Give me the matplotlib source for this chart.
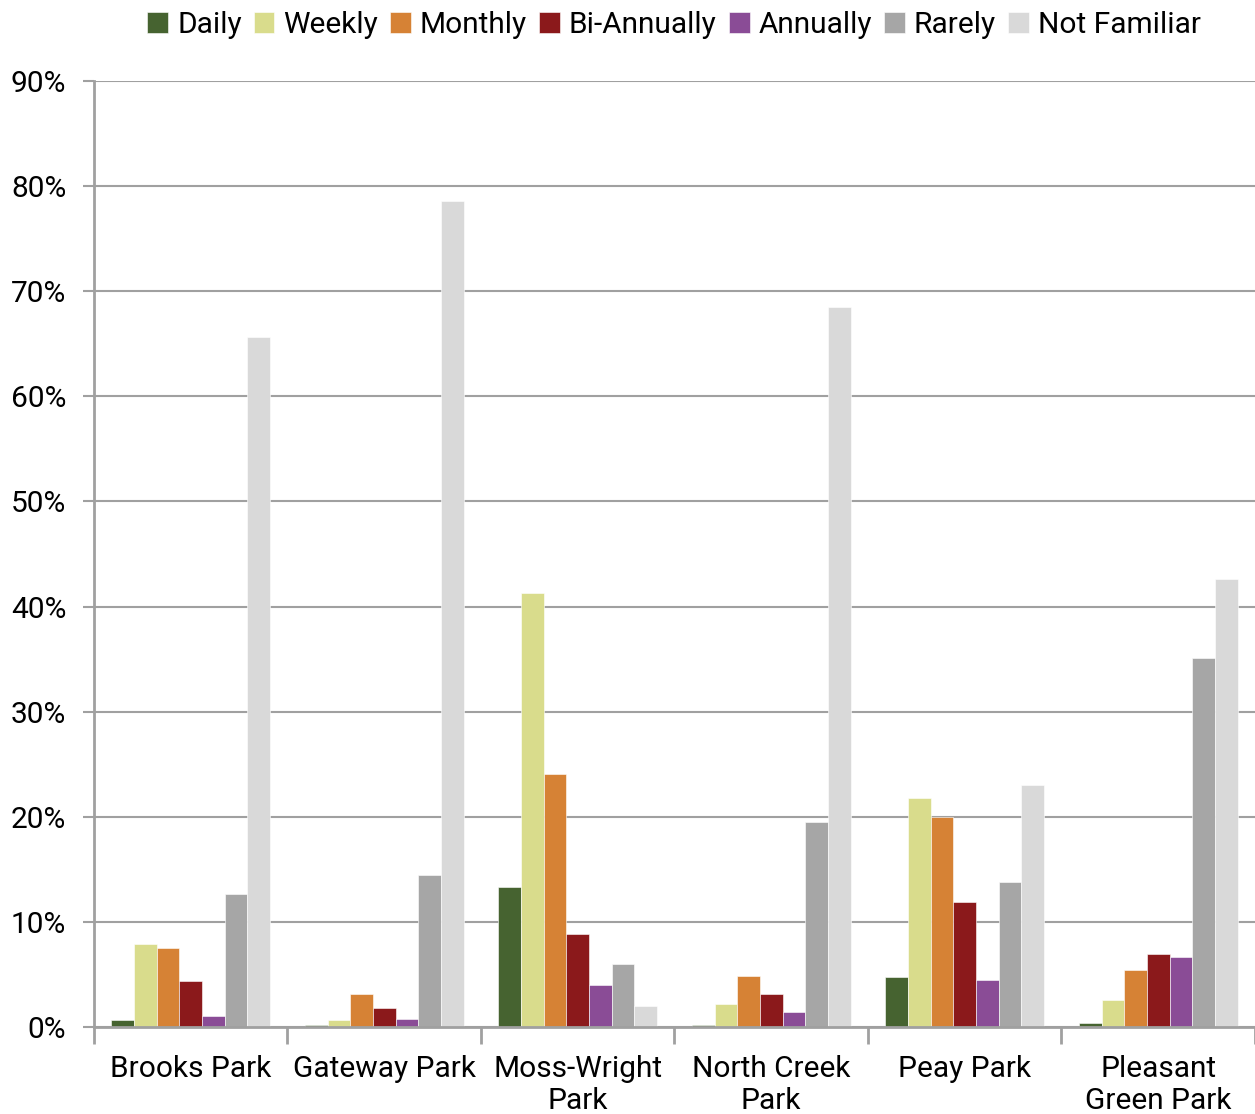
import numpy as np
import matplotlib
matplotlib.use("Agg")
import matplotlib.pyplot as plt

plt.rcParams['font.family'] = ['Roboto', 'DejaVu Sans']

parks = ["Brooks Park", "Gateway Park", "Moss-Wright\nPark", "North Creek\nPark",
         "Peay Park", "Pleasant\nGreen Park"]
series = ["Daily", "Weekly", "Monthly", "Bi-Annually", "Annually", "Rarely", "Not Familiar"]
colors = ["#466330", "#d9dc8c", "#d68235", "#8b191b", "#8a4c96", "#a6a6a6", "#d9d9d9"]

daily = [0.7, 0.2, 13.3, 0.2, 4.75, 0.4]
weekly = [7.9, 0.7, 41.3, 2.2, 21.8, 2.6]
monthly = [7.5, 3.1, 24.1, 4.85, 20.0, 5.4]
bi_annually = [4.4, 1.8, 8.85, 3.1, 11.9, 6.9]
annually = [1.05, 0.76, 4.0, 1.4, 4.5, 6.65]
rarely = [12.65, 14.5, 6.0, 19.5, 13.8, 35.1]
not_familiar = [65.6, 78.6, 2.0, 68.5, 23.0, 42.6]

values = [daily, weekly, monthly, bi_annually, annually, rarely, not_familiar]

fig = plt.figure(figsize=(12.55, 11.14), dpi=100)
ax = fig.add_axes([0.0749, 0.0781, 0.9251, 0.8492])

x = np.arange(len(parks))
n = len(series)
w = 0.82 / n
for i, (name, vals) in enumerate(zip(series, values)):
    ax.bar(x + (i - (n - 1) / 2) * w, vals, width=w, color=colors[i],
           label=name, edgecolor="white", linewidth=0.4, zorder=3)

ax.set_xlim(-0.5, len(parks) - 0.5)
ax.set_ylim(0, 90)
ax.set_yticks(np.arange(0, 91, 10))
ax.set_yticklabels([f"{v}%" for v in range(0, 91, 10)], fontsize=21.5)
ax.yaxis.grid(True, color="#a0a0a0", linewidth=1.5, zorder=0)

ax.set_xticks(x)
ax.set_xticklabels(parks, fontsize=21.5, linespacing=1.2)
ax.set_xticks(np.arange(-0.5, len(parks)), minor=True)
ax.tick_params(axis="x", which="major", length=0, pad=20)
ax.tick_params(axis="x", which="minor", length=12, width=2, color="#a0a0a0")
ax.tick_params(axis="y", length=8, width=1.5, color="#a0a0a0", pad=12)

for s in ["top", "right"]:
    ax.spines[s].set_visible(False)
for s in ["left", "bottom"]:
    ax.spines[s].set_color("#a0a0a0")
    ax.spines[s].set_linewidth(2)
ax.spines["bottom"].set_zorder(4)

leg = fig.legend(*ax.get_legend_handles_labels(), loc="upper center",
                 bbox_to_anchor=(0.537, 1.014), ncol=7, frameon=False, fontsize=21.5,
                 handlelength=0.7, handleheight=0.7, handletextpad=0.3,
                 columnspacing=0.4)

fig.savefig("out.png", dpi=100)
